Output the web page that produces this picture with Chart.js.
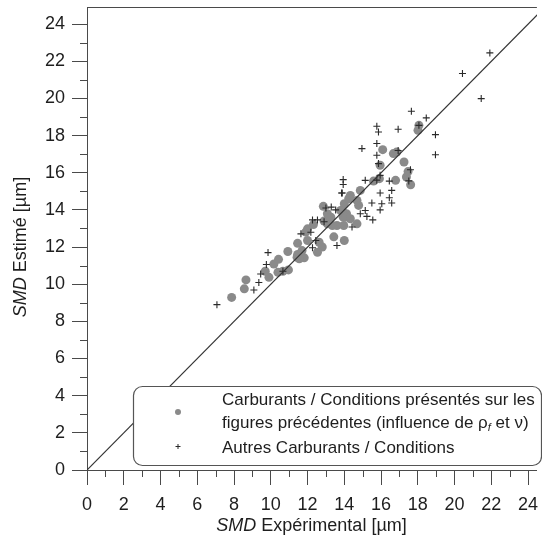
<!DOCTYPE html>
<html><head><meta charset="utf-8">
<script src="https://cdn.jsdelivr.net/npm/chart.js@4"></script>
<style>html,body{margin:0;padding:0;background:#fff;}canvas{display:block;}</style>
</head><body>
<canvas id="c" width="542" height="538"></canvas>
<script>
// ---- data ----
const xTicks = [0,2,4,6,8,10,12,14,16,18,20,22,24];
const yTicks = [0,2,4,6,8,10,12,14,16,18,20,22,24];
const xMinor = [1,3,5,7,9,11,13,15,17,19,21,23];
const yMinor = [1,3,5,7,9,11,13,15,17,19,21,23];

const circlesX = [7.87,8.56,8.65,9.9,9.7,10.17,10.42,10.39,10.66,10.96,10.93,11.43,11.46,
  11.46,11.7,11.82,11.55,12.0,11.9,12.63,12.8,12.54,12.32,12.9,13.08,13.16,13.43,13.6,12.86,13.89,14.0,13.94,13.97,14.0,
  16.09,16.67,16.85,15.95,17.25,17.47,17.38,15.59,15.91,16.79,14.87,14.33,14.24,14.69,14.78,14.12,13.8,14.06,14.33,14.69,13.16,13.35,
  18.01,18.06,17.61,12.0,13.08,13.27];
const circlesY = [9.29,9.75,10.23,10.37,10.7,11.09,11.34,10.64,10.7,10.77,11.76,11.45,12.2,
  11.6,11.81,11.42,11.37,12.35,12.8,12.26,12.0,11.72,13.21,13.4,13.25,13.52,12.55,13.16,14.19,13.97,14.33,13.61,13.16,12.35,
  17.24,17.03,17.11,16.4,16.58,16.06,15.77,15.55,15.68,15.59,15.05,14.78,14.6,14.51,14.24,13.79,13.97,13.61,13.52,13.25,13.43,13.16,
  18.28,18.55,15.35,12.98,13.79,13.61];

const plusX = [7.07,9.08,9.35,9.45,9.76,9.85,10.66,
  11.64,12.18,12.45,12.27,12.27,12.54,13.29,13.53,13.89,13.94,13.94,13.6,
  15.77,15.86,16.93,15.77,14.96,15.77,15.86,15.95,17.51,15.14,16.45,16.58,15.95,13.85,15.5,16.45,16.58,16.04,15.95,15.14,15.23,15.55,14.87,14.42,16.93,
  21.92,20.43,21.45,17.65,18.46,18.06,18.96,18.96,17.6,
  15.77,12.9,13.0];
const plusY = [8.9,9.69,10.09,10.55,11.06,11.7,10.7,
  12.71,12.8,12.35,11.96,13.46,13.46,14.15,14.0,14.91,15.63,15.37,12.08,
  18.5,18.19,18.34,17.57,17.3,16.94,16.49,15.86,15.56,15.59,15.55,15.05,14.91,14.91,14.37,14.65,14.37,14.33,14.0,13.97,13.65,13.46,13.79,13.08,17.2,
  22.45,21.34,19.99,19.31,18.95,18.55,18.05,16.97,16.16,
  15.6,13.36,14.1];

const lineX = [0, 25];
const lineY = [0, 25];

const xTitleParts = ['SMD', ' Expérimental [µm]'];
const yTitleParts = ['SMD', ' Estimé [µm]'];
const legendLine1 = 'Carburants / Conditions présentés sur les';
const legendLine2a = 'figures précédentes (influence de ρ';
const legendLine2sub = 'f';
const legendLine2b = ' et ν)';
const legendLine3 = 'Autres Carburants / Conditions';

// ---- chart ----
const FONT = '"Liberation Sans", Arial, sans-serif';
const AXIS = '#4a4a4a';
const TEXT = '#1e1e1e';
const CIRCLE = '#8a8a8a';
const PLUS = '#2a2a2a';

const zip = (xs, ys) => xs.map((x, i) => ({x, y: ys[i]}));

const extras = {
  id: 'extras',
  afterDatasetsDraw(chart) {
    const ctx = chart.ctx;
    const ca = chart.chartArea;
    const xs = chart.scales.x, ys = chart.scales.y;
    ctx.save();
    // top frame
    ctx.strokeStyle = AXIS; ctx.lineWidth = 1;
    ctx.beginPath(); ctx.moveTo(ca.left, Math.round(ca.top) + 0.5); ctx.lineTo(ca.right, Math.round(ca.top) + 0.5); ctx.stroke();
    // minor ticks
    ctx.beginPath();
    xMinor.forEach(v => { const p = Math.round(xs.getPixelForValue(v)) + 0.5; ctx.moveTo(p, ca.bottom); ctx.lineTo(p, ca.bottom + 7); });
    yMinor.forEach(v => { const p = Math.round(ys.getPixelForValue(v)) + 0.5; ctx.moveTo(ca.left - 7, p); ctx.lineTo(ca.left, p); });
    ctx.stroke();

    // legend box
    const bx = 133.5, by = 386.5, bw = 408, bh = 79, r = 9;
    ctx.beginPath();
    ctx.roundRect(bx, by, bw, bh, r);
    ctx.fillStyle = '#ffffff'; ctx.fill();
    ctx.strokeStyle = '#555'; ctx.lineWidth = 1.2; ctx.stroke();
    // markers
    ctx.fillStyle = CIRCLE;
    ctx.beginPath(); ctx.arc(178, 412, 3, 0, Math.PI * 2); ctx.fill();
    ctx.strokeStyle = PLUS; ctx.lineWidth = 1;
    ctx.beginPath(); ctx.moveTo(175.5, 446.5); ctx.lineTo(180.5, 446.5); ctx.moveTo(178, 444); ctx.lineTo(178, 449); ctx.stroke();
    // legend text
    ctx.fillStyle = TEXT; ctx.textBaseline = 'middle'; ctx.textAlign = 'left';
    ctx.font = '17px ' + FONT;
    const tx = 222;
    ctx.fillText(legendLine1, tx, 400);
    ctx.fillText(legendLine2a, tx, 423);
    let w = ctx.measureText(legendLine2a).width;
    ctx.font = 'italic 11px ' + FONT;
    ctx.fillText(legendLine2sub, tx + w, 428);
    const w2 = ctx.measureText(legendLine2sub).width;
    ctx.font = '17px ' + FONT;
    ctx.fillText(legendLine2b, tx + w + w2, 423);
    ctx.fillText(legendLine3, tx, 448);

    // axis titles
    const drawParts = (parts, cx, cy) => {
      ctx.font = 'italic 18px ' + FONT;
      const a = ctx.measureText(parts[0]).width;
      ctx.font = '18px ' + FONT;
      const b = ctx.measureText(parts[1]).width;
      const x0 = cx - (a + b) / 2;
      ctx.font = 'italic 18px ' + FONT;
      ctx.fillText(parts[0], x0, cy);
      ctx.font = '18px ' + FONT;
      ctx.fillText(parts[1], x0 + a, cy);
    };
    ctx.textBaseline = 'middle';
    drawParts(xTitleParts, (ca.left + xs.getPixelForValue(24)) / 2 + 4, 526);
    ctx.save();
    ctx.translate(21, (ca.bottom + ys.getPixelForValue(24)) / 2);
    ctx.rotate(-Math.PI / 2);
    drawParts(yTitleParts, 0, 0);
    ctx.restore();
    ctx.restore();
  }
};

const tickFont = {family: FONT, size: 18};

new Chart(document.getElementById('c'), {
  type: 'scatter',
  data: {
    datasets: [
      {type: 'line', data: zip(lineX, lineY), borderColor: '#333', borderWidth: 1.2, pointRadius: 0, showLine: true, fill: false, order: 0},
      {data: zip(plusX, plusY), pointStyle: 'cross', pointRadius: 3.5, borderColor: PLUS, borderWidth: 1.1, backgroundColor: PLUS, order: 1},
      {data: zip(circlesX, circlesY), pointStyle: 'circle', pointRadius: 4.5, borderWidth: 0, backgroundColor: CIRCLE, order: 2}
    ]
  },
  options: {
    responsive: false,
    animation: false,
    devicePixelRatio: 1,
    layout: {padding: {top: 7, right: 0, left: 0, bottom: 0}},
    plugins: {legend: {display: false}, tooltip: {enabled: false}},
    scales: {
      x: {
        type: 'linear', min: 0, max: 24.48,
        afterBuildTicks: s => { s.ticks = xTicks.map(v => ({value: v})); },
        afterFit: s => { s.height = 68; s.paddingLeft = 0; s.paddingRight = 0; },
        ticks: {font: tickFont, color: TEXT, padding: 9, maxRotation: 0, autoSkip: false},
        grid: {drawOnChartArea: false, tickLength: 15, color: AXIS, tickWidth: 1},
        border: {display: true, color: AXIS, width: 1},
        title: {display: false}
      },
      y: {
        type: 'linear', min: 0, max: 24.92,
        afterBuildTicks: s => { s.ticks = yTicks.map(v => ({value: v})); },
        afterFit: s => { s.width = 87; s.paddingTop = 0; s.paddingBottom = 0; },
        ticks: {font: tickFont, color: TEXT, padding: 7, autoSkip: false},
        grid: {drawOnChartArea: false, tickLength: 15, color: AXIS, tickWidth: 1},
        border: {display: true, color: AXIS, width: 1},
        title: {display: false}
      }
    }
  },
  plugins: [extras]
});
</script>
</body></html>
